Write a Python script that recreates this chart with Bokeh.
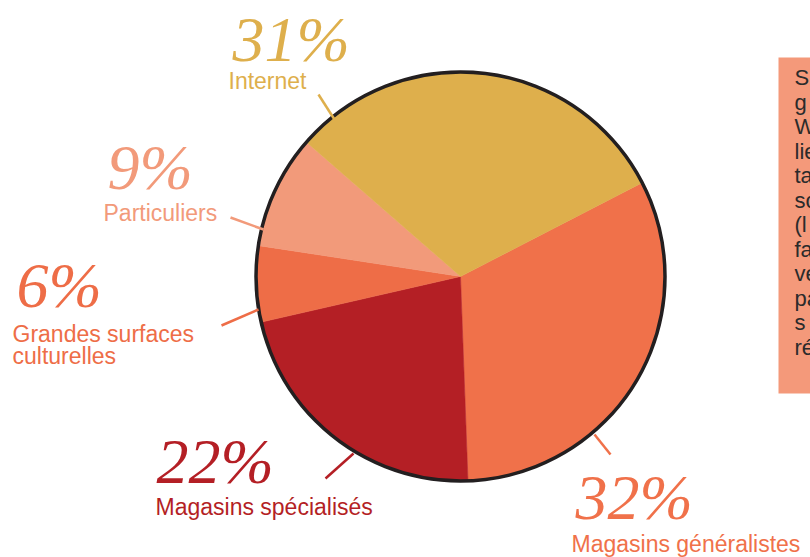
import math
from bokeh.plotting import figure
from bokeh.models import Range1d, ColumnDataSource
from bokeh.core.properties import value
from bokeh.embed import file_html
from bokeh.resources import INLINE

# ---- data ----
categories = ["Magasins généralistes", "Magasins spécialisés",
              "Grandes surfaces culturelles", "Particuliers", "Internet"]
shares = [32, 22, 6, 9, 31]
pct_labels = ["32%", "22%", "6%", "9%", "31%"]
colors = ["#F0714A", "#B41F25", "#EE6D47", "#F29A7A", "#DEAF4C"]
label_lines = [["Magasins généralistes"], ["Magasins spécialisés"],
               ["Grandes surfaces", "culturelles"], ["Particuliers"], ["Internet"]]
side_text = ["S", "g", "W", "lie", "ta", "so", "(l", "fa", "ve", "pa", "s", "ré"]

W, H = 810, 557
def Y(v):
    return H - v

p = figure(width=W, height=H, output_backend="svg", toolbar_location=None,
           x_range=Range1d(0, W), y_range=Range1d(0, H), min_border=0)
p.axis.visible = False
p.grid.visible = False
p.outline_line_color = None
p.background_fill_color = "white"
p.border_fill_color = "white"

# ---- pie ----
cx, cy, r = 460, Y(276), 204
start_deg = 27.3
total = float(sum(shares))
starts, ends = [], []
a = start_deg
for s in shares:
    starts.append(math.radians(a))
    a -= s / total * 360.0
    ends.append(math.radians(a))
src = ColumnDataSource(dict(start=starts, end=ends, color=colors, cat=categories))
p.wedge(x=cx, y=cy, radius=r, start_angle="start", end_angle="end", direction="clock",
        fill_color="color", line_color="color", line_width=0.5, source=src)
p.scatter(x=[cx], y=[cy], size=2 * r + 1, marker="circle", fill_color=None,
          line_color="#231F20", line_width=3.5)

# ---- labels (layout) ----
pct_pos = [(575, 497), (156, 461), (16, 285), (107, 167), (232, 39)]
lab_pos = [(571, 543), (155, 506), (12, 333), (103, 212), (228, 80)]
leaders = [((610, 454), (594, 434)), ((325, 478), (353, 453)),
           ((221, 325), (258, 309)), ((230, 217), (263, 229)), ((318, 94), (334, 119))]

for i in range(len(shares)):
    c = colors[i]
    px, py = pct_pos[i]
    p.text(x=[px], y=[Y(py)], text=[pct_labels[i]], text_color=c,
           text_font=value("Liberation Serif"), text_font_style="italic",
           text_font_size="64px", text_baseline="alphabetic", text_align="left")
    lx, ly = lab_pos[i]
    for j, t in enumerate(label_lines[i]):
        p.text(x=[lx], y=[Y(ly + j * 22)], text=[t], text_color=c,
               text_font=value("Liberation Sans"), text_font_size="23px",
               text_baseline="alphabetic", text_align="left")
    (x0, y0), (x1, y1) = leaders[i]
    p.line(x=[x0, x1], y=[Y(y0), Y(y1)], line_color=c, line_width=2.5)

# ---- side box (cut by the page edge) ----
p.quad(left=778, right=830, top=Y(57), bottom=Y(393), fill_color="#F4997A", line_color=None)
for k, t in enumerate(side_text):
    p.text(x=[794], y=[Y(77 + k * 24.5)], text=[t], text_color="#2B2B2B",
           text_font=value("Liberation Sans"), text_font_size="22px",
           text_baseline="alphabetic", text_align="left")

open("out.html", "w").write(file_html(p, INLINE))
